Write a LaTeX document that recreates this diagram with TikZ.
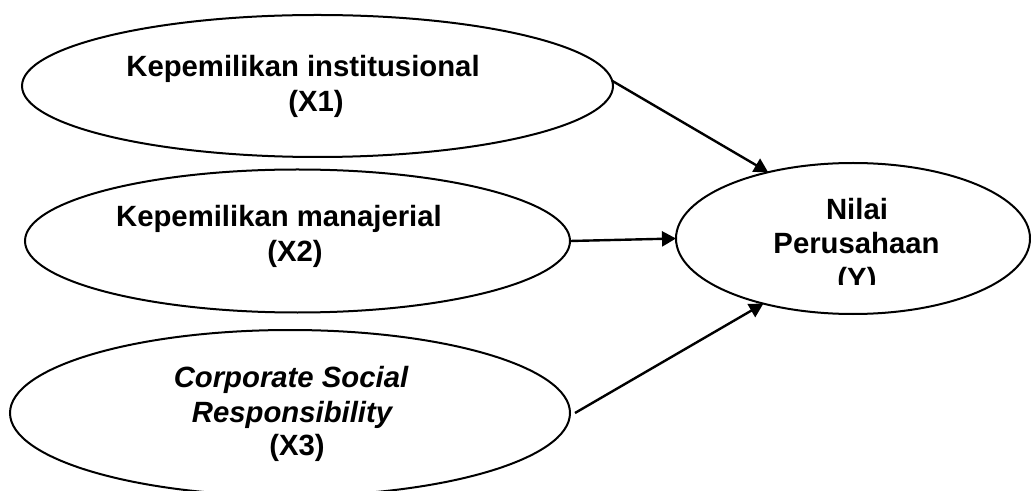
\documentclass[tikz,border=0pt]{standalone}
\usepackage{fontspec}
\setmainfont{Liberation Sans}
\usetikzlibrary{shapes.geometric,arrows.meta}
\tikzset{
  ell/.style={draw=black, ellipse, line width=1pt, inner sep=0pt, outer sep=0pt},
  lbl/.style={anchor=base, inner sep=0pt, outer sep=0pt, font=\fontsize{14.65}{17}\selectfont\bfseries},
  ilbl/.style={lbl, font=\fontsize{14.65}{17}\selectfont\bfseries\itshape},
  arr/.style={line width=1.2pt, -{Triangle[length=7pt,width=7.5pt]}}
}
\begin{document}
\begin{tikzpicture}[x=0.5pt,y=-0.5pt]
\fill[white] (0,0) rectangle (1031,491);
\useasboundingbox (0,0) rectangle (1031,491);
% ellipses
\node[ell, minimum width=295.5pt, minimum height=71pt] (E1) at (317.5,86) {};
\node[ell, minimum width=272.5pt, minimum height=71.5pt] (E2) at (297.5,241) {};
\node[ell, minimum width=280pt, minimum height=83pt] (E3) at (290,413) {};
\node[ell, minimum width=177pt, minimum height=75.5pt] (E4) at (853,238.5) {};
% texts
\node[lbl] (t11) at (303,77) {Kepemilikan institusional};
\node[lbl] (t12) at (316,112) {(X1)};
\node[lbl] (t21) at (279,227) {Kepemilikan manajerial};
\node[lbl] (t22) at (295,262) {(X2)};
\node[ilbl] (t31) at (291,387) {Corporate Social};
\node[ilbl] (t32) at (292,422) {Responsibility};
\node[lbl] (t33) at (297,455) {(X3)};
\node[lbl] (t41) at (857,220) {Nilai};
\node[lbl] (t42) at (856.5,254) {Perusahaan};
\begin{scope}
\clip (700,160) rectangle (1000,285);
\node[lbl] (t43) at (857,288) {(Y)};
\end{scope}
% arrows
\coordinate (s3) at ([xshift=2.5pt]E3.east);
\draw[arr] (E1.1) -- (E4.142);
\draw[arr] (E2.east) -- (E4.west);
\draw[arr] (s3) -- (E4.216.5);
\end{tikzpicture}
\end{document}
